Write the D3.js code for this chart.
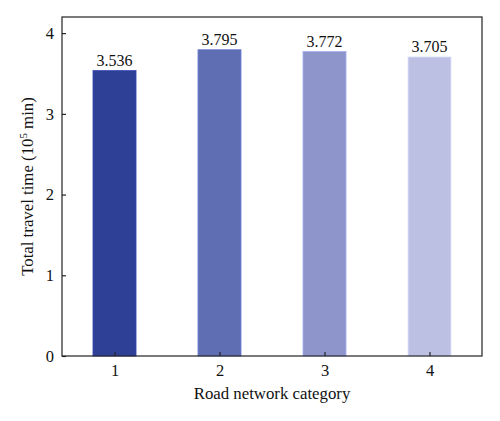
<!DOCTYPE html>
<html>
<head>
<meta charset="utf-8">
<script src="https://cdn.jsdelivr.net/npm/d3@7"></script>
<style>
body { margin: 0; background: #fff; }
svg { font-family: "Liberation Serif", "DejaVu Serif", serif; }
</style>
</head>
<body>
<svg id="chart" width="500" height="421"></svg>
<script>
// data
const categories = [1, 2, 3, 4];
const values = [3.536, 3.795, 3.772, 3.705];
const labels = ['3.536', '3.795', '3.772', '3.705'];
const colors = ['#2e3f96', '#5f6db3', '#8d95cb', '#bcc1e3'];
const yTicks = [0, 1, 2, 3, 4];

const svg = d3.select('#chart');
const margin = { left: 62, top: 17, right: 18, bottom: 65 };
const W = 500 - margin.left - margin.right;
const H = 421 - margin.top - margin.bottom;

const g = svg.append('g').attr('transform', `translate(${margin.left},${margin.top})`);

const x = d3.scaleLinear().domain([0.5, 4.5]).range([0, W]);
const y = d3.scaleLinear().domain([0, 4.2]).range([H, 0]);
const barW = x(1.41) - x(1);

// bars
g.selectAll('rect.bar').data(categories).enter().append('rect')
  .attr('class', 'bar')
  .attr('x', (d) => x(d) - barW / 2)
  .attr('width', barW)
  .attr('y', (d, i) => y(values[i]))
  .attr('height', (d, i) => H - y(values[i]))
  .attr('fill', (d, i) => colors[i])
  .attr('stroke', (d, i) => d3.color(colors[i]).brighter(0.5))
  .attr('stroke-width', 0.8);

// value labels
g.selectAll('text.val').data(categories).enter().append('text')
  .attr('class', 'val')
  .attr('x', (d) => x(d))
  .attr('y', (d, i) => y(values[i]) - 5)
  .attr('text-anchor', 'middle')
  .attr('font-size', 16)
  .attr('fill', '#111')
  .text((d, i) => labels[i]);

// frame
g.append('rect').attr('width', W).attr('height', H)
  .attr('fill', 'none').attr('stroke', '#222').attr('stroke-width', 1.2);

// axes
const xAxis = g.append('g').attr('transform', `translate(0,${H})`)
  .call(d3.axisBottom(x).tickValues(categories).tickFormat(d3.format('d')).tickSize(-4).tickPadding(8));
const yAxis = g.append('g')
  .call(d3.axisLeft(y).tickValues(yTicks).tickFormat(d3.format('d')).tickSize(-4).tickPadding(8));

[xAxis, yAxis].forEach((a) => {
  a.select('.domain').remove();
  a.selectAll('line').attr('stroke', '#222').attr('stroke-width', 1.2);
  a.selectAll('text').attr('font-size', 16.5).attr('fill', '#111')
    .attr('font-family', '"Liberation Serif", serif');
});

// axis titles
svg.append('text')
  .attr('x', margin.left + W / 2)
  .attr('y', 399)
  .attr('text-anchor', 'middle')
  .attr('font-size', 16.8)
  .attr('fill', '#111')
  .text('Road network category');

const yt = svg.append('text')
  .attr('transform', `translate(33,${margin.top + H / 2}) rotate(-90)`)
  .attr('text-anchor', 'middle')
  .attr('font-size', 16.8)
  .attr('fill', '#111');
yt.append('tspan').text('Total travel time (10');
yt.append('tspan').attr('baseline-shift', 'super').attr('font-size', 11).text('5');
yt.append('tspan').text(' min)');
</script>
</body>
</html>
